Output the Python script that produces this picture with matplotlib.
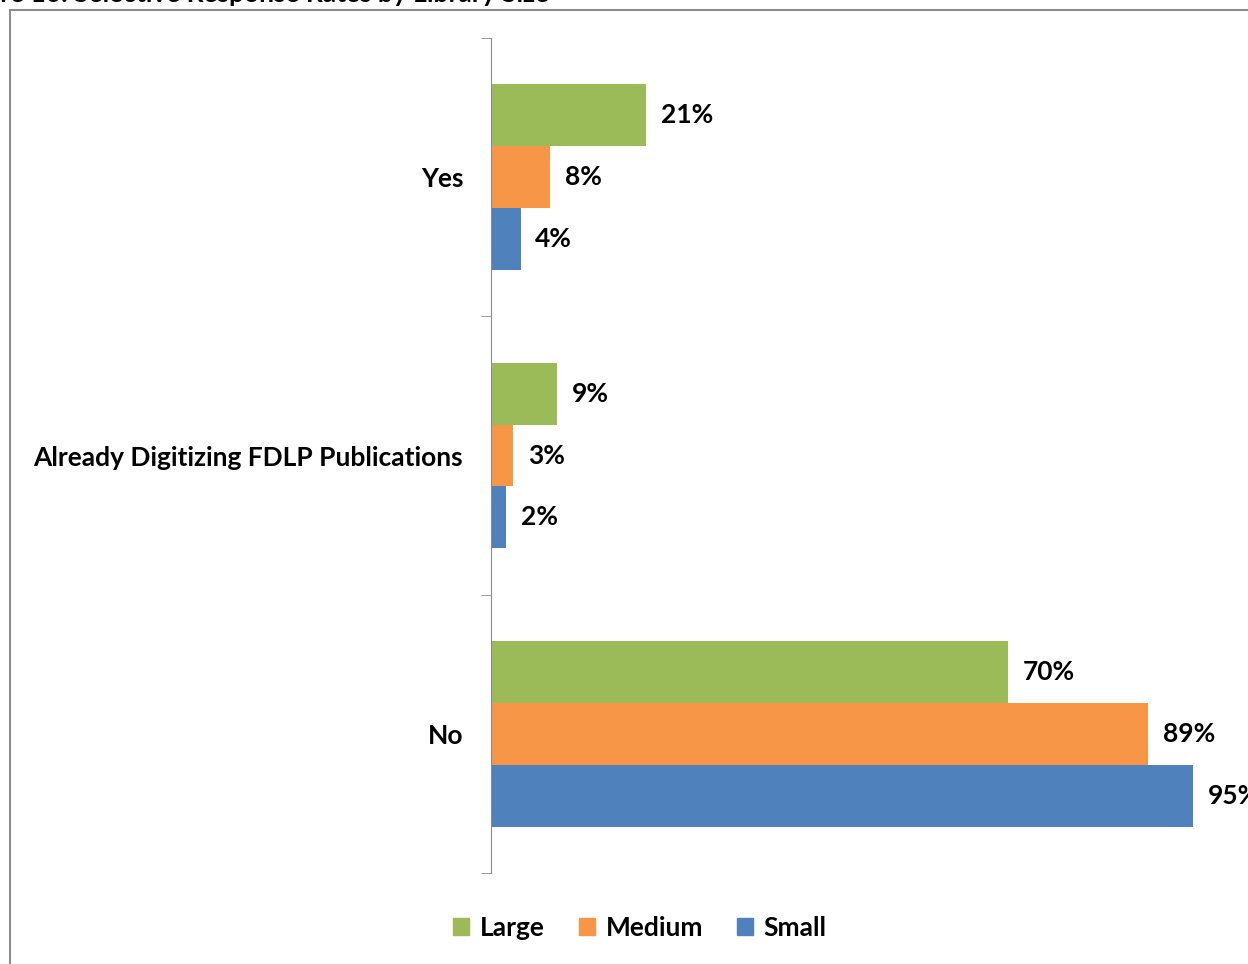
import matplotlib.pyplot as plt
from matplotlib.patches import Rectangle, Patch

categories = ['No', 'Already Digitizing FDLP Publications', 'Yes']
large = [70, 9, 21]
medium = [89, 3, 8]
small = [95, 2, 4]
series_names = ['Large', 'Medium', 'Small']
colors = ['#9BBB59', '#F79646', '#4F81BD']

plt.rcParams['font.family'] = ['Lato', 'DejaVu Sans']
FS = 19

W, H = 1248, 964
fig = plt.figure(figsize=(W / 100, H / 100), dpi=100)

# outer frame of the chart (cut off at right and bottom)
fig.patches.append(Rectangle((10 / W, -0.05), 1.1, 1 - 10 / H + 0.05,
                             transform=fig.transFigure, fill=False,
                             edgecolor='#8c8c8c', linewidth=1.5))
fig.text(-50 / W, 1 + 6 / H, 'Figure 10: Selective Response Rates by Library Size',
         fontsize=FS, fontweight='bold', va='center', ha='left')

ax = fig.add_axes([491 / W, 1 - 873 / H, 738.6 / W, (873 - 38) / H])
ax.set_xlim(0, 100)
ax.set_ylim(-0.5, 2.5)

h = 0.222
ypos = list(range(len(categories)))
for vals, off, col, name in zip([large, medium, small], [h, 0, -h], colors, series_names):
    ys = [y + off for y in ypos]
    ax.barh(ys, vals, height=h, color=col, label=name)
    for y, v in zip(ys, vals):
        ax.text(v + 2.0, y, f'{v}%', va='center', ha='left', fontsize=FS,
                fontweight='bold', clip_on=False)

ax.set_yticks(ypos)
ax.set_yticklabels(categories, fontsize=FS, fontweight='bold')
ax.tick_params(axis='y', which='major', length=0, pad=20)
ax.set_yticks([-0.5, 0.5, 1.5, 2.5], minor=True)
ax.tick_params(axis='y', which='minor', length=7, color='#8c8c8c', direction='out')
ax.set_xticks([])
for s in ['top', 'right', 'bottom']:
    ax.spines[s].set_visible(False)
ax.spines['left'].set_color('#8c8c8c')

handles = [Patch(color=c, label=n) for c, n in zip(colors, series_names)]
fig.legend(handles=handles, loc='center', bbox_to_anchor=(640 / W, 1 - 928 / H),
           ncol=3, frameon=False, prop={'weight': 'bold', 'size': FS},
           handlelength=0.6, handleheight=0.6, handletextpad=0.4, columnspacing=1.3)

fig.savefig('out.png', dpi=100)
